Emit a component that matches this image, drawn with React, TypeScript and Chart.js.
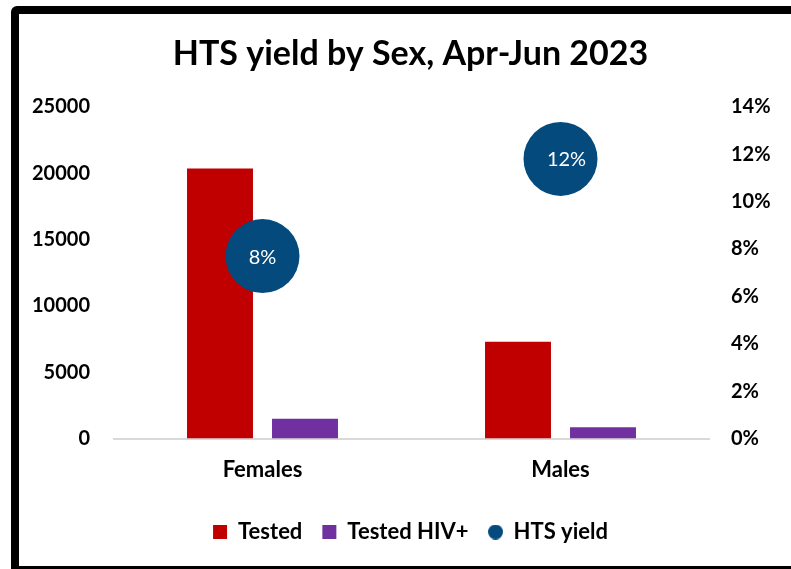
import React, { useEffect, useRef } from "react";
import { Chart, registerables } from "chart.js";

Chart.register(...registerables);

const categories = ["Females", "Males"];
const tested = [20350, 7300];
const testedHivPos = [1500, 850];
const htsYield = [7.7, 11.8];
const leftTicks = [0, 5000, 10000, 15000, 20000, 25000];
const rightTicks = [0, 2, 4, 6, 8, 10, 12, 14];

const FONT = "Lato, 'Open Sans', sans-serif";

const yieldLabelPlugin = {
  id: "yieldLabels",
  afterDatasetsDraw(chart: any) {
    const meta = chart.getDatasetMeta(2);
    const ctx = chart.ctx;
    ctx.save();
    ctx.fillStyle = "#ffffff";
    ctx.font = `20px ${FONT}`;
    ctx.textAlign = "center";
    ctx.textBaseline = "middle";
    meta.data.forEach((pt: any, i: number) => {
      ctx.fillText(Math.round(htsYield[i]) + "%", pt.x + (i === 1 ? 6 : 0), pt.y + 1);
    });
    ctx.restore();
  },
};

function circleIcon(d: number, color: string) {
  const c = document.createElement("canvas");
  c.width = d;
  c.height = d;
  const g = c.getContext("2d")!;
  g.fillStyle = color;
  g.beginPath();
  g.arc(d / 2, d / 2, d / 2, 0, Math.PI * 2);
  g.fill();
  return c;
}

export default function App() {
  const ref = useRef<HTMLCanvasElement>(null);
  useEffect(() => {
    const icon = circleIcon(15, "#054a7d");
    const chart = new Chart(ref.current!, {
      type: "bar",
      data: {
        labels: categories,
        datasets: [
          {
            type: "bar",
            label: "Tested",
            data: tested,
            backgroundColor: "#c00000",
            yAxisID: "y",
            categoryPercentage: 0.5705,
            barPercentage: 0.776,
            order: 2,
          },
          {
            type: "bar",
            label: "Tested HIV+",
            data: testedHivPos,
            backgroundColor: "#7030a0",
            yAxisID: "y",
            categoryPercentage: 0.5705,
            barPercentage: 0.776,
            order: 2,
          },
          {
            type: "line",
            label: "HTS yield",
            data: htsYield,
            yAxisID: "y1",
            showLine: false,
            pointRadius: 37,
            pointHoverRadius: 37,
            pointStyle: "circle",
            backgroundColor: "#054a7d",
            borderColor: "#054a7d",
            borderWidth: 0,
            clip: false as any,
            order: 1,
          } as any,
        ],
      },
      options: {
        responsive: false,
        animation: false,
        layout: { padding: { left: 30, right: 0, top: 0, bottom: 16 } },
        plugins: {
          title: {
            display: true,
            text: "HTS yield by Sex, Apr-Jun 2023",
            color: "#000",
            font: { family: FONT, size: 34, weight: "bold" },
            padding: { top: 34, bottom: 32 },
          },
          legend: {
            position: "bottom",
            labels: {
              color: "#000",
              font: { family: FONT, size: 22, weight: "bold" },
              usePointStyle: true,
              boxWidth: 14,
              boxHeight: 14,
              padding: 20,
              sort: (a: any, b: any) => a.datasetIndex - b.datasetIndex,
              generateLabels(ch: any) {
                const base = Chart.defaults.plugins.legend.labels.generateLabels(ch);
                return base.map((l: any) => ({
                  ...l,
                  pointStyle: l.datasetIndex === 2 ? icon : "rect",
                  lineWidth: 0,
                  strokeStyle: "rgba(0,0,0,0)",
                }));
              },
            },
          },
          tooltip: { enabled: false },
        },
        scales: {
          x: {
            grid: { display: false, drawTicks: false },
            border: { display: true, color: "#d9d9d9", width: 2 },
            ticks: {
              color: "#000",
              font: { family: FONT, size: 22, weight: "bold" },
              padding: 18,
            },
          },
          y: {
            position: "left",
            min: 0,
            max: 25000,
            afterFit(s: any) {
              s.width = 83.5;
            },
            afterBuildTicks(s: any) {
              s.ticks = leftTicks.map((v) => ({ value: v }));
            },
            grid: { display: false, drawTicks: false },
            border: { display: false },
            ticks: {
              color: "#000",
              font: { family: FONT, size: 20, weight: "bold" },
              padding: 23.5,
              callback: (v: any) => String(v),
            },
          },
          y1: {
            position: "right",
            min: 0,
            max: 14,
            afterFit(s: any) {
              s.width = 81.5;
            },
            afterBuildTicks(s: any) {
              s.ticks = rightTicks.map((v) => ({ value: v }));
            },
            grid: { display: false, drawTicks: false },
            border: { display: false },
            ticks: {
              color: "#000",
              font: { family: FONT, size: 20, weight: "bold" },
              padding: 21.5,
              callback: (v: any) => v + "%",
            },
          },
        },
      },
      plugins: [yieldLabelPlugin],
    } as any);
    return () => chart.destroy();
  }, []);

  return (
    <div
      style={{
        position: "absolute",
        left: 0,
        top: 0,
        width: 791,
        height: 569,
        overflow: "hidden",
        background: "#fff",
      }}
    >
      <div
        style={{
          position: "absolute",
          left: 11,
          top: 6,
          width: 820,
          height: 568,
          boxSizing: "border-box",
          border: "8px solid #000",
          borderRadius: 6,
        }}
      />
      <canvas
        ref={ref}
        width={791}
        height={569}
        style={{ position: "absolute", left: 0, top: 0, width: 791, height: 569 }}
      />
    </div>
  );
}
